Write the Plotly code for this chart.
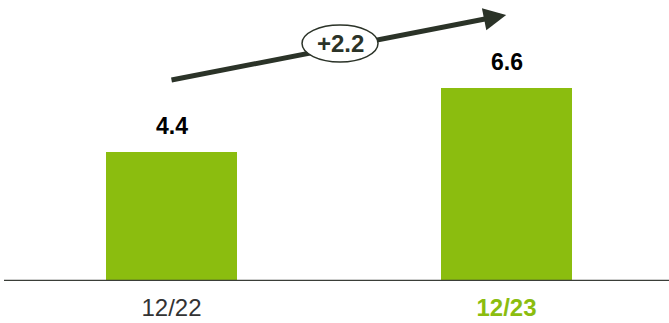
import plotly.graph_objects as go

# Net value at period end
periods = ["12/22", "12/23"]
values = [4.4, 6.6]
change_label = "+2.2"

GREEN = "#8BBD0F"
DARK = "#2B3328"
FONT = "Liberation Sans, Arial, sans-serif"

x_pos = list(range(len(periods)))

fig = go.Figure()
fig.add_trace(go.Bar(
    x=x_pos, y=values, width=0.391,
    marker=dict(color=GREEN, line=dict(width=0)),
    hoverinfo="skip",
))

# value labels above each bar
for xi, v in zip(x_pos, values):
    fig.add_annotation(
        x=xi, y=v, text=f"<b>{v:.1f}</b>", showarrow=False,
        yanchor="bottom", yshift=11,
        font=dict(family=FONT, size=23, color="#000000"),
    )

# growth arrow: shaft as a shape, so the bubble can sit on top of it
tail = (0.0, 6.86)
tip = (0.999, 9.08)
fig.add_shape(
    type="line", xref="x", yref="y",
    x0=tail[0], y0=tail[1], x1=0.97, y1=9.02,
    line=dict(color=DARK, width=5),
)
# arrowhead
fig.add_annotation(
    x=tip[0], y=tip[1], ax=-19.6, ay=3.9,
    xref="x", yref="y",
    text="", showarrow=True,
    arrowhead=2, arrowsize=0.9, arrowwidth=5, arrowcolor=DARK,
)

# change bubble on the arrow
cx, cy = 0.503, 8.106
fig.add_shape(
    type="circle", xref="x", yref="y",
    x0=cx - 0.1134, x1=cx + 0.1134, y0=cy - 0.631, y1=cy + 0.631,
    fillcolor="white", line=dict(color=DARK, width=1.5),
)
fig.add_annotation(
    x=cx, y=cy, text=f"<b>{change_label}</b>", showarrow=False,
    font=dict(family=FONT, size=24, color=DARK),
)

# baseline
fig.add_shape(
    type="line", xref="paper", yref="y", x0=0, x1=1, y0=0, y1=0,
    line=dict(color="#3A3E38", width=2.5), layer="above",
)

tick_text = [
    periods[0],
    f"<b><span style='color:{GREEN}'>{periods[1]}</span></b>",
]

fig.update_layout(
    width=669, height=323,
    margin=dict(l=4, r=0, t=0, b=42),
    paper_bgcolor="white", plot_bgcolor="white",
    showlegend=False,
    bargap=0,
    xaxis=dict(
        range=[-0.5, 1.485], tickvals=x_pos, ticktext=tick_text,
        showgrid=False, zeroline=False, showline=False, ticks="",
        ticklabelstandoff=10,
        tickfont=dict(family=FONT, size=24, color="#333333"),
        fixedrange=True,
    ),
    yaxis=dict(
        range=[0, 9.59], visible=False, showgrid=False,
        zeroline=False, fixedrange=True,
    ),
)

fig.write_html("out.html")
